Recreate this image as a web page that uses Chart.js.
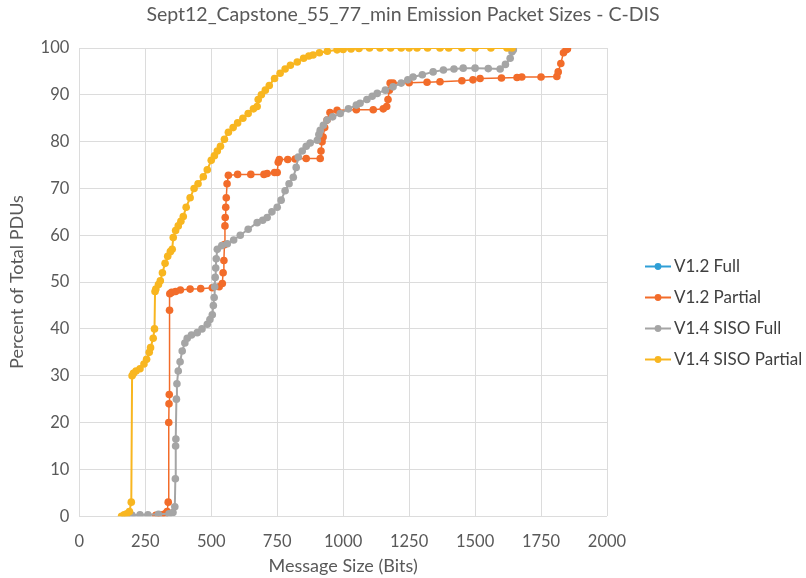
<!DOCTYPE html>
<html>
<head>
<meta charset="utf-8">
<script src="https://cdn.jsdelivr.net/npm/chart.js@4.4.0/dist/chart.umd.min.js"></script>
<style>
  body { margin: 0; background: #fff; }
  #wrap { width: 806px; height: 578px; }
</style>
</head>
<body>
<div id="wrap"><canvas id="chart"></canvas></div>
<script>
// values (x = message size in bits, y = cumulative percent)
const chartTitle = "Sept12_Capstone_55_77_min Emission Packet Sizes - C-DIS";
const xTitle = "Message Size (Bits)";
const yTitle = "Percent of Total PDUs";
const seriesNames = ["V1.2 Full", "V1.2 Partial", "V1.4 SISO Full", "V1.4 SISO Partial"];
const seriesColors = ["#2f9fd6", "#f26c2a", "#a5a5a5", "#f8b620"];

const v12FullX = [];
const v12FullY = [];

const v12PartialX = [290, 310, 325, 333, 337, 339, 340, 341, 342, 343, 350, 365, 383, 420, 460, 504, 530, 542, 545, 548, 550, 552, 553, 555, 557, 560, 565, 600, 650, 700, 712, 740, 750, 754, 758, 790, 818, 860, 913, 916, 920, 924, 930, 939, 950, 977, 1050, 1114, 1152, 1165, 1170, 1175, 1178, 1189, 1250, 1318, 1367, 1450, 1492, 1519, 1600, 1659, 1677, 1750, 1810, 1815, 1825, 1835, 1845, 1850];
const v12PartialY = [0.2, 0.3, 0.5, 1, 3, 20, 24, 26, 44, 47.5, 47.8, 48, 48.3, 48.5, 48.6, 48.8, 49, 49.7, 52, 54.6, 58, 62, 63.8, 66, 68, 71, 72.8, 73, 73, 73, 73.2, 73.4, 73.4, 75.6, 76.2, 76.2, 76.3, 76.4, 76.4, 78, 80, 81, 83, 84.6, 86.2, 86.7, 86.8, 86.8, 87, 87.5, 89, 91, 92.5, 92.5, 92.6, 92.7, 92.8, 93, 93.2, 93.5, 93.6, 93.7, 93.8, 93.8, 93.9, 94.9, 96.7, 99, 99.6, 99.8];

const v14FullX = [200, 230, 260, 300, 340, 355, 362, 364, 365, 366, 368, 370, 375, 382, 390, 400, 409, 425, 447, 465, 485, 495, 504, 508, 511, 513, 515, 517, 519, 523, 540, 561, 585, 610, 640, 674, 695, 712, 730, 750, 765, 780, 795, 811, 822, 830, 845, 860, 875, 902, 908, 913, 925, 939, 960, 989, 1020, 1050, 1064, 1090, 1110, 1129, 1160, 1189, 1220, 1245, 1265, 1300, 1341, 1380, 1420, 1455, 1500, 1550, 1595, 1615, 1633, 1640, 1645];
const v14FullY = [0.2, 0.3, 0.3, 0.4, 0.5, 0.8, 2, 8, 15, 16.5, 25, 28.3, 31, 33, 35.3, 37, 38, 38.7, 39.2, 40, 41, 42, 43, 45, 46.7, 49, 51, 53, 55, 57, 57.8, 58.2, 59, 60, 61.3, 62.7, 63.2, 63.8, 65, 66, 67.5, 69.5, 71, 72.4, 74.5, 76.7, 78, 79, 79.7, 80.3, 81.5, 82.4, 83.5, 84.6, 85.3, 86, 87, 87.8, 88.2, 89, 89.7, 90.3, 91, 91.7, 92.5, 93.2, 93.8, 94.3, 94.9, 95.3, 95.5, 95.7, 95.7, 95.6, 95.5, 96.5, 97.8, 99.2, 99.6];

const v14PartialX = [160, 170, 180, 190, 197, 200, 205, 215, 230, 245, 255, 265, 270, 280, 285, 287, 290, 300, 307, 315, 325, 335, 345, 352, 356, 365, 375, 385, 394, 405, 420, 435, 450, 470, 485, 500, 512, 523, 535, 550, 565, 583, 600, 620, 640, 660, 674, 678, 690, 705, 720, 740, 761, 780, 800, 826, 850, 870, 886, 910, 940, 977, 1000, 1030, 1060, 1100, 1140, 1180, 1220, 1250, 1280, 1320, 1367, 1400, 1450, 1500, 1560, 1621, 1640];
const v14PartialY = [0, 0.3, 0.5, 1, 3, 30, 30.5, 31, 31.5, 32.5, 33.5, 35, 36, 38, 40, 48, 48.5, 49.5, 50.3, 52, 54, 55.5, 56.5, 57, 59.5, 61, 62, 63, 64, 66, 68, 70, 71, 72.5, 74, 76, 77, 78, 79, 80.5, 82, 83, 84, 85, 86, 87, 87.5, 89, 90, 91, 92, 93.5, 94.6, 95.5, 96.3, 97, 97.8, 98.3, 98.5, 99, 99.3, 99.6, 99.7, 99.8, 99.9, 100, 100, 100, 100, 100, 100, 100, 100, 100, 100, 100, 100, 100, 100];

const xTicks = [0, 250, 500, 750, 1000, 1250, 1500, 1750, 2000];

const toPoints = (xs, ys) => xs.map((x, i) => ({ x: x, y: ys[i] }));

const allX = [v12FullX, v12PartialX, v14FullX, v14PartialX];
const allY = [v12FullY, v12PartialY, v14FullY, v14PartialY];
const lineWidths = [1.5, 1.5, 2, 2];

const datasets = seriesNames.map((name, i) => ({
  label: name,
  data: toPoints(allX[i], allY[i]),
  borderColor: seriesColors[i],
  backgroundColor: seriesColors[i],
  borderWidth: lineWidths[i],
  pointRadius: 3.8,
  pointBorderWidth: 0,
  pointHoverRadius: 3.8,
  showLine: true,
  tension: 0,
  order: 4 - i,
}));

const fontFamily = "Lato, 'Open Sans', sans-serif";

// title across the whole picture, x title under the plot, and a
// spreadsheet-style legend (short line with a dot) right of the plot
const decorations = {
  id: "decorations",
  afterDraw(chart) {
    const ctx = chart.ctx;
    const area = chart.chartArea;
    ctx.save();
    ctx.textBaseline = "middle";
    ctx.textAlign = "center";
    ctx.fillStyle = "#595959";
    ctx.font = "19.5px " + fontFamily;
    ctx.fillText(chartTitle, chart.width / 2, 15);
    ctx.font = "18px " + fontFamily;
    ctx.fillText(xTitle, (area.left + area.right) / 2, 566);

    ctx.textAlign = "left";
    ctx.font = "17px " + fontFamily;
    const x0 = area.right + 38;
    const yMid = 313;
    const step = 31;
    seriesNames.forEach((name, i) => {
      const y = yMid + (i - 1.5) * step;
      ctx.strokeStyle = seriesColors[i];
      ctx.lineWidth = 2;
      ctx.beginPath();
      ctx.moveTo(x0, y);
      ctx.lineTo(x0 + 26, y);
      ctx.stroke();
      ctx.fillStyle = seriesColors[i];
      ctx.beginPath();
      ctx.arc(x0 + 13, y, 3.4, 0, Math.PI * 2);
      ctx.fill();
      ctx.fillStyle = "#404040";
      ctx.fillText(name, x0 + 29, y);
    });
    ctx.restore();
  },
};

new Chart(document.getElementById("chart"), {
  type: "scatter",
  data: { datasets: datasets },
  plugins: [decorations],
  options: {
    responsive: true,
    maintainAspectRatio: false,
    animation: false,
    layout: { padding: { left: 6, right: 199, top: 48, bottom: 10 } },
    plugins: {
      title: { display: false },
      legend: { display: false },
      tooltip: { enabled: false },
    },
    scales: {
      x: {
        type: "linear",
        min: 0,
        max: 2000,
        afterBuildTicks: (axis) => {
          axis.ticks = xTicks.map((v) => ({ value: v }));
        },
        grid: { color: "#dcdcdc", drawTicks: false },
        border: { display: false },
        ticks: {
          color: "#595959",
          font: { family: fontFamily, size: 16.5 },
          padding: 16,
          callback: (v) => String(v),
        },
      },
      y: {
        min: 0,
        max: 100,
        ticks: {
          stepSize: 10,
          color: "#595959",
          font: { family: fontFamily, size: 16.5 },
          padding: 10,
        },
        grid: { color: "#dcdcdc", drawTicks: false },
        border: { display: false },
        title: {
          display: true,
          text: yTitle,
          color: "#595959",
          font: { family: fontFamily, size: 18 },
          padding: { top: 0, bottom: 3 },
        },
      },
    },
  },
});
</script>
</body>
</html>
